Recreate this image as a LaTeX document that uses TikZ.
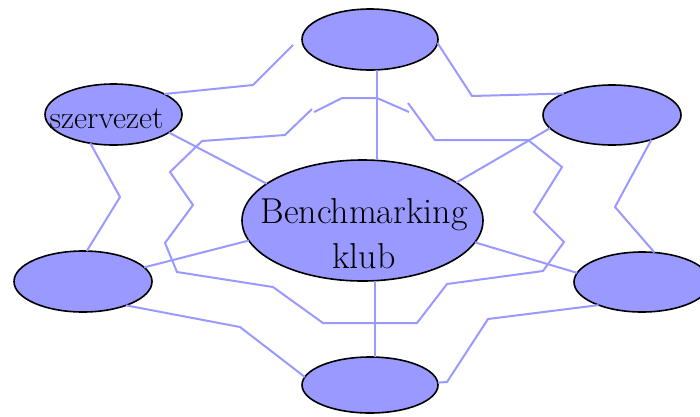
\documentclass[tikz,border=0pt]{standalone}
\usepackage{tikz}
\usetikzlibrary{shapes.geometric}
\definecolor{lila}{RGB}{153,153,255}

\begin{document}
\begin{tikzpicture}[x=1pt, y=-1pt,
  bubble/.style = {ellipse, draw=black, line width=1.6pt, fill=lila,
    inner sep=0pt, outer sep=0pt, minimum width=137pt, minimum height=60pt},
  link/.style = {draw=lila, line width=2pt}]
  \useasboundingbox (0,0) rectangle (700,416);

  % the broken ring round the club
  \draw[link] (312,109) -- (285,135) -- (202,141) -- (170,172) -- (193,205)
    -- (165,243) -- (177,272) -- (273,287) -- (323,323) -- (417,323)
    -- (447,284) -- (543,271) -- (564,242) -- (534,212) -- (562,167)
    -- (528,140) -- (435,140) -- (408,103);
  \draw[link] (314,112) -- (342,98) -- (377,98) -- (409,112);

  % members
  \node[bubble, minimum width=136pt, minimum height=61pt] (top) at (370,39.5) {};
  \node[bubble, minimum height=61pt,
    label={[font=\fontsize{32}{32}\selectfont, xshift=-7pt, yshift=-4pt]center:szervezet}]
    (org) at (113.5,114.5) {};
  \node[bubble, minimum width=138pt] (rightup) at (612,115) {};
  \node[bubble, minimum width=138pt, minimum height=61pt] (leftlow) at (83,281.5) {};
  \node[bubble, minimum width=136pt] (rightlow) at (642,282) {};
  \node[bubble, minimum width=136pt, minimum height=56pt] (bottom) at (370,385) {};
  \node[bubble, minimum width=241pt, minimum height=121pt,
    label={[align=center, font=\fontsize{36}{45}\selectfont, xshift=1.5pt, yshift=-13pt]center:Benchmarking\\klub}]
    (klub) at (362.5,220.5) {};

  \coordinate (topgap) at (293,45);

  % links
  \draw[link] (org.22) -- (253,85) -- (topgap);
  \draw[link] ([xshift=7pt]top.south) -- ([xshift=7pt]top.south |- klub.north);
  \draw[link] (top.-3) -- (472,96) -- (rightup.156);
  \draw[link] (rightup.192) -- (klub.22);
  \draw[link] (rightup.-32) -- (615,207) -- (rightlow.67);
  \draw[link] (org.231) -- (120,197) -- (leftlow.83);
  \draw[link] (org.-18) -- (klub.159);
  \draw[link] (leftlow.13) -- (klub.190);
  \draw[link] (leftlow.-29) -- (240,327) -- (bottom.173);
  \draw[link] ([xshift=12.5pt]klub.south) -- ([xshift=12.5pt]klub.south |- bottom.north);
  \draw[link] (klub.-11) -- (rightlow.172);
  \draw[link] (rightlow.208) -- (488,319) -- (447,382) -- (bottom.2);
\end{tikzpicture}
\end{document}
